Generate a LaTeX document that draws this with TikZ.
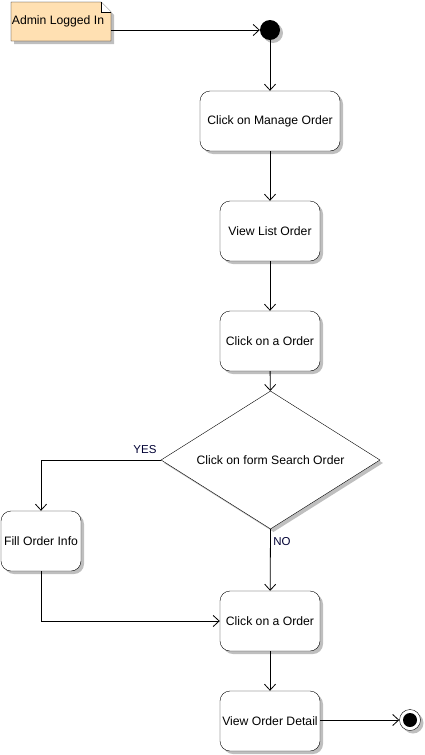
\documentclass[tikz,border=0pt]{standalone}
\usepackage{fontspec}
\setmainfont{Liberation Sans}
\usetikzlibrary{arrows.meta,shapes.geometric,shadows}
\definecolor{notefill}{RGB}{255,224,178}
\begin{document}
\begin{tikzpicture}[x=1pt,y=-1pt,
  font=\fontsize{12.2}{14}\selectfont,
  shd/.style={drop shadow={shadow xshift=3pt,shadow yshift=-3pt,fill=black!25,opacity=1}},
  act/.style={draw,rounded corners=10pt,fill=white,shd,minimum height=60pt,inner sep=2pt},
  conn/.style={draw,line width=0.8pt,-{Straight Barb[length=6pt,width=11pt]}},
  lab/.style={font=\fontsize{11.5}{13}\selectfont,text=black!80!blue}]
\useasboundingbox (0,0) rectangle (425,755);
% note
\fill[black!25] (14,5) -- (104,5) -- (114,15) -- (114,44) -- (14,44) -- cycle;
\draw[fill=notefill] (11,2) -- (101,2) -- (111,12) -- (111,41) -- (11,41) -- cycle;
\draw[fill=white] (101,2) -- (101,12) -- (111,12);
\node (note) at (58,21.5) {Admin Logged In};
\coordinate (noteR) at (111,30);
% initial
\node[circle,fill=black,minimum size=20pt,inner sep=0pt,shd] (init) at (270,30) {};
% activities
\node[act,minimum width=140pt] (a1) at (270,121) {Click on Manage Order};
\node[act,minimum width=100pt] (a2) at (270,231) {View List Order};
\node[act,minimum width=100pt] (a3) at (270,341) {Click on a Order};
\node[draw,diamond,aspect=1.587,minimum width=219pt,minimum height=138pt,inner sep=0pt,fill=white,shd] (dec) at (270.5,460) {};
\node at (270.5,460) {Click on form Search Order};
\node[act,minimum width=80pt] (fill) at (41,541) {Fill Order Info};
\node[act,minimum width=100pt] (a4) at (270,621) {Click on a Order};
\node[act,minimum width=100pt] (a5) at (270,721) {View Order Detail};
% final
\node[circle,draw,fill=white,minimum size=21pt,inner sep=0pt,shd] (fin) at (410,720) {};
\node[circle,fill=black,minimum size=14pt,inner sep=0pt] at (fin) {};
% connectors
\draw[conn] (noteR) -- (init);
\draw[conn] (init) -- (a1);
\draw[conn] (a1) -- (a2);
\draw[conn] (a2) -- (a3);
\draw[conn] (a3) -- (dec);
\draw[conn] (dec.west) -| (fill.north);
\draw[conn] (dec.south) -- (a4);
\draw[conn] (fill.south) |- (a4.west);
\draw[conn] (a4) -- (a5);
\draw[conn] (a5.east |- fin) -- (fin);
\node[lab] at (145,450) {YES};
\node[lab] at (282,542) {NO};
\end{tikzpicture}
\end{document}
